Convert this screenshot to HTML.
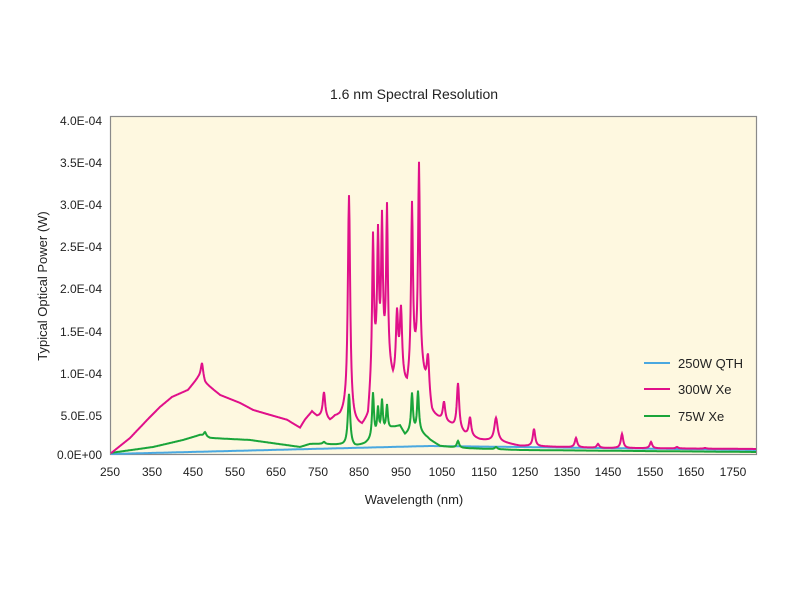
<!DOCTYPE html>
<html><head><meta charset="utf-8"><style>
body{margin:0;background:#fff;}
svg{display:block;font-family:"Liberation Sans",sans-serif;}
</style></head><body>
<svg id="s" width="800" height="600" xmlns="http://www.w3.org/2000/svg">
<rect x="0" y="0" width="800" height="600" fill="#fff"/>
<rect x="110.5" y="116.5" width="646" height="338" fill="#fef8e0" stroke="#8a8a8a" stroke-width="1.2"/>
<text x="414" y="99" font-size="14" text-anchor="middle" fill="#222">1.6 nm Spectral Resolution</text>
<g font-size="12" fill="#222" text-anchor="end">
<text x="102" y="125">4.0E-04</text>
<text x="102" y="167">3.5E-04</text>
<text x="102" y="209">3.0E-04</text>
<text x="102" y="251">2.5E-04</text>
<text x="102" y="293">2.0E-04</text>
<text x="102" y="336">1.5E-04</text>
<text x="102" y="378">1.0E-04</text>
<text x="102" y="420">5.0E.05</text>
<text x="102" y="459">0.0E+00</text>
</g>
<g font-size="12" fill="#222" text-anchor="middle">
<text x="110" y="476">250</text><text x="152" y="476">350</text><text x="193" y="476">450</text>
<text x="235" y="476">550</text><text x="276" y="476">650</text><text x="318" y="476">750</text>
<text x="359" y="476">850</text><text x="401" y="476">950</text><text x="442" y="476">1050</text>
<text x="484" y="476">1150</text><text x="525" y="476">1250</text><text x="567" y="476">1350</text>
<text x="608" y="476">1450</text><text x="650" y="476">1550</text><text x="691" y="476">1650</text>
<text x="733" y="476">1750</text>
</g>
<text x="414" y="504" font-size="13" text-anchor="middle" fill="#222">Wavelength (nm)</text>
<text x="0" y="0" font-size="13" text-anchor="middle" fill="#222" transform="translate(47,286) rotate(-90)">Typical Optical Power (W)</text>
<path id="pb" fill="none" stroke="#4aa8e0" stroke-width="2"/>
<path id="pg" fill="none" stroke="#1aa53a" stroke-width="2"/>
<path id="pm" fill="none" stroke="#e0108a" stroke-width="2"/>
<line x1="644" y1="363" x2="670" y2="363" stroke="#4aa8e0" stroke-width="2"/>
<line x1="644" y1="389" x2="670" y2="389" stroke="#e0108a" stroke-width="2"/>
<line x1="644" y1="416" x2="670" y2="416" stroke="#1aa53a" stroke-width="2"/>
<g font-size="13" fill="#222"><text x="678" y="368">250W QTH</text><text x="678" y="394">300W Xe</text><text x="678" y="421">75W Xe</text></g>
</svg>
<script>
function interp(pts,x){if(x<=pts[0][0])return pts[0][1];for(let i=1;i<pts.length;i++){if(x<=pts[i][0]){const a=pts[i-1],b=pts[i];return a[1]+(b[1]-a[1])*(x-a[0])/(b[0]-a[0]);}}return pts[pts.length-1][1];}
function build(base,peaks,g){let d="";for(let x=111;x<=756;x+=0.5){let y=interp(base,x);for(const p of peaks){const h=interp(base,p[0])-p[1];const gg=p[2]||g;y-=h/(1+((x-p[0])/gg)**2);}y=Math.max(y,117);d+=(d?"L":"M")+x.toFixed(1)+","+y.toFixed(1);}return d;}
const mb=[[110,454],[130,438],[150,417],[160,407],[172,397],[188,390],[198,378],[202,375],[205,383],[210,387],[220,395],[240,403],[253,410],[263,413],[287,420],[300,428],[305,420],[312,412],[317,417],[323,417],[330,422],[335,418],[340,418],[345,415],[355,425],[362,428],[368,420],[373,365],[387,360],[393,385],[400,378],[407,392],[412,370],[419,360],[425,385],[432,415],[440,420],[450,425],[465,435],[480,440],[500,442],[520,446],[600,448],[757,449]];
const mp=[[202,363],[324,393],[349,196],[373,240,1],[378,240,1],[382,226,1],[387,212,1],[397,318,1.3],[401,315,1.3],[412,208,1.1],[419,168,1.1],[428,358,1.5],[444,403],[458,384],[470,418],[496,418,2],[534,429],[576,438],[598,444],[622,434],[651,442],[677,447],[705,448]];
const gb=[[110,453],[153,447],[183,440],[200,435],[210,438],[250,440],[300,447],[310,444],[320,444],[340,445],[355,447],[365,444],[372,440],[385,432],[392,428],[400,426],[405,435],[410,432],[420,432],[430,440],[440,446],[460,448],[520,450],[757,452]];
const gp=[[205,432],[324,442],[349,394],[373,394,1.1],[378,410,1],[382,402,1],[387,406,1],[412,394,1.1],[418,392,1.1],[428,438],[458,441],[496,447]];
const bb=[[110,454],[430,446],[520,447],[757,450]];
document.getElementById("pm").setAttribute("d",build(mb,mp,1.4));
document.getElementById("pg").setAttribute("d",build(gb,gp,1.4));
document.getElementById("pb").setAttribute("d",build(bb,[],1));
</script>
</body></html>
